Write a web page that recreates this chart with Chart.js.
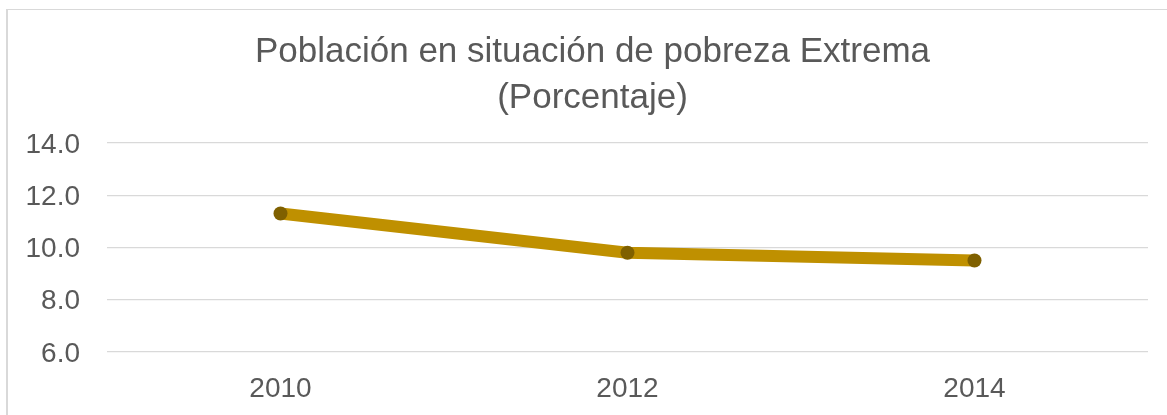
<!DOCTYPE html>
<html>
<head>
<meta charset="utf-8">
<script src="https://cdn.jsdelivr.net/npm/chart.js@4/dist/chart.umd.min.js"></script>
<style>
  body { margin: 0; background: #fff; }
  #wrap { position: relative; width: 1167px; height: 415px; overflow: hidden; }
  #frame { position: absolute; left: 6px; top: 9px; width: 1300px; height: 500px;
           border-left: 2px solid #d9d9d9; border-top: 1px solid #d9d9d9; }
  canvas { position: absolute; left: 0; top: 0; }
</style>
</head>
<body>
<div id="wrap">
  <div id="frame"></div>
  <canvas id="chartArea" width="1167" height="415"></canvas>
</div>
<script>
    // données
    const years = ["2010", "2012", "2014"];
    const pobrezaExtrema = [11.3, 9.8, 9.5];
    const yMin = 6, yMax = 14, yStep = 2;

    const textColor = "#595959";
    const fontFamily = "'Liberation Sans', Arial, sans-serif";

    // décale le titre pour le centrer comme dans l'original
    const titleShift = {
        id: "titleShift",
        afterLayout(chart) {
            if (chart.titleBlock) chart.titleBlock.left += 37;
        }
    };

    const canvas = document.getElementById("chartArea");
    const chartJs = new Chart(canvas, {
        type: "line",
        data: {
            labels: years,
            datasets: [
                {
                    label: "Población en situación de pobreza Extrema",
                    data: pobrezaExtrema,
                    borderColor: "#BF9000",
                    borderWidth: 12,
                    tension: 0,
                    pointRadius: 7,
                    pointHoverRadius: 7,
                    pointBackgroundColor: "#7F6000",
                    pointBorderColor: "#7F6000",
                    pointBorderWidth: 0,
                    borderCapStyle: "round",
                    borderJoinStyle: "round"
                }
            ]
        },
        options: {
            responsive: false,
            animation: false,
            layout: { padding: { left: 0, right: 19, top: 0, bottom: 0 } },
            plugins: {
                legend: { display: false },
                tooltip: { enabled: false },
                title: {
                    display: true,
                    text: ["Población en situación de pobreza Extrema", "(Porcentaje)"],
                    color: textColor,
                    font: { family: fontFamily, size: 35, weight: "normal", lineHeight: 1.3 },
                    padding: { top: 30, bottom: 22 }
                }
            },
            scales: {
                x: {
                    offset: true,
                    grid: { display: false },
                    border: { display: false },
                    ticks: {
                        color: textColor,
                        font: { family: fontFamily, size: 28 },
                        padding: 12,
                        maxRotation: 0
                    },
                    afterFit: scale => { scale.height = 63; }
                },
                y: {
                    min: yMin,
                    max: yMax,
                    grid: { color: "#d9d9d9", lineWidth: 1.3, drawTicks: false },
                    border: { display: false },
                    ticks: {
                        stepSize: yStep,
                        color: textColor,
                        font: { family: fontFamily, size: 28 },
                        padding: 27,
                        labelOffset: 2,
                        callback: value => value.toFixed(1)
                    },
                    afterFit: scale => { scale.width = 107; }
                }
            }
        },
        plugins: [titleShift]
    });
</script>
</body>
</html>
